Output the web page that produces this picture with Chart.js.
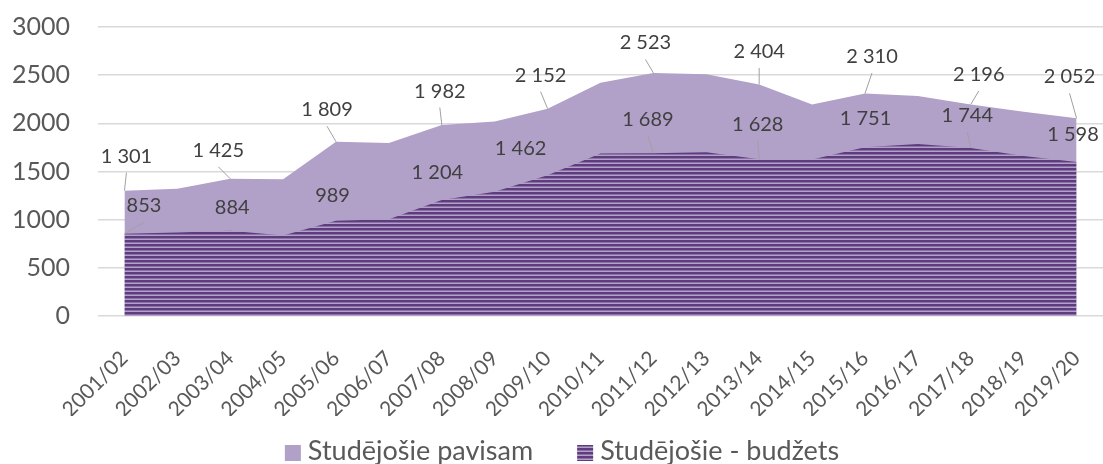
<!DOCTYPE html>
<html lang="lv">
<head>
<meta charset="utf-8">
<title>Studējošie</title>
<script src="https://cdn.jsdelivr.net/npm/chart.js@4/dist/chart.umd.min.js"></script>
<style>
  html, body { margin: 0; padding: 0; background: #ffffff; overflow: hidden; }
  #wrap { position: relative; width: 1103px; height: 464px; }
</style>
</head>
<body>
<div id="wrap"><canvas id="chart"></canvas></div>
<script>
// Studējošo skaits: kopā un budžeta vietās, 2001/02 - 2019/20.

const years = [
  "2001/02", "2002/03", "2003/04", "2004/05", "2005/06", "2006/07", "2007/08",
  "2008/09", "2009/10", "2010/11", "2011/12", "2012/13", "2013/14", "2014/15",
  "2015/16", "2016/17", "2017/18", "2018/19", "2019/20",
];
const totalStudents = [
  1301, 1320, 1425, 1420, 1809, 1795, 1982, 2020, 2152, 2420,
  2523, 2510, 2404, 2195, 2310, 2285, 2196, 2120, 2052,
];
const budgetStudents = [
  853, 868, 884, 835, 989, 1005, 1204, 1290, 1462, 1687,
  1689, 1700, 1628, 1625, 1751, 1785, 1744, 1660, 1598,
];
const yTicks = [0, 500, 1000, 1500, 2000, 2500, 3000];

// vērtību uzrakstu novietojums (px no punkta) un vai vilkt līniju uz punktu
const totalLabelPos = {
  0: [2, -34.5, true], 2: [-12, -28.5, true], 4: [-9, -32, true], 6: [-2, -34, true],
  8: [-7, -33.5, true], 10: [-8, -30, true], 12: [0, -33, true], 14: [7, -37, true],
  16: [8, -30, true], 18: [-7, -41.5, true],
};
const budgetLabelPos = {
  0: [19.5, -28, true], 2: [2, -23, false], 4: [-3.5, -25.5, false], 6: [-4.5, -27, false],
  8: [-27, -26.5, false], 10: [-5.5, -34, true], 12: [-1.5, -35, true], 14: [0.5, -28.5, false],
  16: [-3.5, -32.5, true], 18: [-3.5, -27.5, false],
};

const FONT = "Lato, 'Open Sans', sans-serif";
const TOTAL_COLOR = "#b1a0c8";

// horizontālās svītras budžeta laukumam
function stripePattern() {
  const c = document.createElement("canvas");
  c.width = 4; c.height = 4;
  const g = c.getContext("2d");
  g.fillStyle = "#b2a1c9"; g.fillRect(0, 0, 4, 4);
  g.fillStyle = "#5e3c7e"; g.fillRect(0, 0, 4, 2);
  g.fillStyle = "#8a70a7"; g.fillRect(0, 2, 4, 1);
  return g.createPattern(c, "repeat");
}
const STRIPES = stripePattern();

function fmt(v) {
  return String(v).replace(/\B(?=(\d{3})+(?!\d))/g, " ");
}

// vērtību uzraksti ar norādes līnijām
const valueLabels = {
  id: "valueLabels",
  afterDatasetsDraw(chart) {
    const ctx = chart.ctx;
    ctx.save();
    ctx.font = "20px " + FONT;
    ctx.textAlign = "center";
    ctx.textBaseline = "middle";
    chart.data.datasets.forEach((ds, di) => {
      const meta = chart.getDatasetMeta(di);
      const pos = ds.labelPos;
      Object.keys(pos).forEach(k => {
        const i = +k;
        const pt = meta.data[i];
        const [dx, dy, leader] = pos[k];
        const lx = pt.x + dx, ly = pt.y + dy;
        if (leader) {
          ctx.strokeStyle = "#a0a0a0";
          ctx.lineWidth = 1;
          ctx.beginPath();
          ctx.moveTo(lx, ly + 16.5);
          ctx.lineTo(pt.x, pt.y);
          ctx.stroke();
        }
        ctx.fillStyle = "#404040";
        ctx.fillText(fmt(ds.data[i]), lx, ly);
      });
    });
    ctx.restore();
  },
};

// leģenda zem ass
const bottomLegend = {
  id: "bottomLegend",
  afterDraw(chart) {
    const ctx = chart.ctx;
    const items = [
      { text: "Studējošie pavisam", fill: TOTAL_COLOR },
      { text: "Studējošie - budžets", fill: STRIPES },
    ];
    const box = 16, gap = 7, itemGap = 44;
    ctx.save();
    ctx.font = "27px " + FONT;
    const widths = items.map(it => ctx.measureText(it.text).width);
    const total = widths.reduce((s, w) => s + box + gap + w, 0) + itemGap * (items.length - 1);
    let x = 562 - total / 2;
    const base = 460;
    items.forEach((it, i) => {
      ctx.fillStyle = it.fill;
      ctx.fillRect(x, 445, box, box);
      x += box + gap;
      ctx.fillStyle = "#595959";
      ctx.textBaseline = "alphabetic";
      ctx.fillText(it.text, x, base);
      x += widths[i] + itemGap;
    });
    ctx.restore();
  },
};

new Chart(document.getElementById("chart"), {
  type: "line",
  data: {
    labels: years,
    datasets: [
      {
        label: "Studējošie - budžets",
        data: budgetStudents,
        backgroundColor: STRIPES,
        borderWidth: 0,
        pointRadius: 0,
        fill: "origin",
        tension: 0,
        labelPos: budgetLabelPos,
      },
      {
        label: "Studējošie pavisam",
        data: totalStudents,
        backgroundColor: TOTAL_COLOR,
        borderWidth: 0,
        pointRadius: 0,
        fill: "origin",
        tension: 0,
        labelPos: totalLabelPos,
      },
    ],
  },
  options: {
    responsive: true,
    maintainAspectRatio: false,
    animation: false,
    layout: { padding: { top: 27, right: 0, bottom: 48, left: 0 } },
    plugins: {
      legend: { display: false },
      tooltip: { enabled: false },
    },
    scales: {
      x: {
        offset: true,
        grid: { display: false },
        border: { display: false },
        ticks: {
          autoSkip: false,
          minRotation: 45,
          maxRotation: 45,
          padding: 22,
          color: "#595959",
          font: { family: FONT, size: 21 },
        },
        afterFit(scale) {
          scale.height = 100;
          scale.paddingLeft = 0;
          scale.paddingRight = 0;
        },
      },
      y: {
        min: 0,
        max: 3000,
        afterBuildTicks(scale) { scale.ticks = yTicks.map(v => ({ value: v })); },
        grid: { color: "#d9d9d9", lineWidth: 1.5, drawTicks: false },
        border: { display: false },
        ticks: {
          padding: 28,
          color: "#595959",
          font: { family: FONT, size: 25 },
          callback: v => String(v),
        },
        afterFit(scale) {
          scale.width = 98;
          scale.paddingTop = 0;
          scale.paddingBottom = 0;
        },
      },
    },
  },
  plugins: [valueLabels, bottomLegend],
});
</script>
</body>
</html>
